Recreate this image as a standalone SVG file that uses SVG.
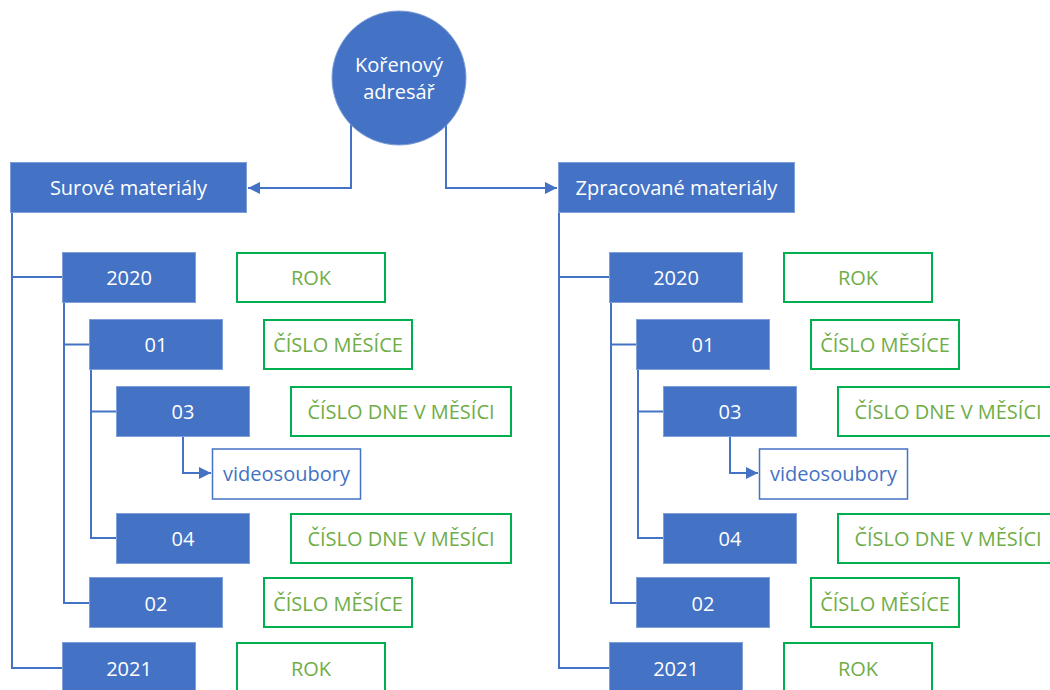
<svg xmlns="http://www.w3.org/2000/svg" width="1050" height="690" viewBox="0 0 1050 690">
<style>
.blue{fill:#4472C4;stroke:#7f9fd8;stroke-width:1}
.green{fill:#ffffff;stroke:#00B050;stroke-width:2}
.vid{fill:#ffffff;stroke:#4472C4;stroke-width:1.5}
.wt{font-family:"Open Sans","Liberation Sans",sans-serif;font-size:20px;fill:#ffffff;text-anchor:middle}
.gt{font-family:"Open Sans","Liberation Sans",sans-serif;font-size:20px;fill:#70AD47;text-anchor:middle}
.bt{font-family:"Open Sans","Liberation Sans",sans-serif;font-size:20px;fill:#4472C4;text-anchor:middle}
.ln{fill:none;stroke:#4472C4;stroke-width:2}
</style>
<defs>
<marker id="arr" viewBox="0 0 12 12" refX="12" refY="6" markerWidth="12" markerHeight="12" markerUnits="userSpaceOnUse" orient="auto">
<path d="M0,0 L12,6 L0,12 z" fill="#4472C4"/>
</marker>
</defs>
<g id="connectors">
<path class="ln" d="M351,120 V188 H248" marker-end="url(#arr)"/>
<path class="ln" d="M446,120 V188 H557" marker-end="url(#arr)"/>
<path class="ln" d="M12,213 V668 H62"/>
<path class="ln" d="M12,277 H62"/>
<path class="ln" d="M64,302 V603 H89"/>
<path class="ln" d="M64,344.5 H89"/>
<path class="ln" d="M91,370 V538 H116"/>
<path class="ln" d="M91,411.5 H116"/>
<path class="ln" d="M183,437 V473 H211" marker-end="url(#arr)"/>
<path class="ln" d="M559,213 V668 H609"/>
<path class="ln" d="M559,277 H609"/>
<path class="ln" d="M611,302 V603 H636"/>
<path class="ln" d="M611,344.5 H636"/>
<path class="ln" d="M638,370 V538 H663"/>
<path class="ln" d="M638,411.5 H663"/>
<path class="ln" d="M730,437 V473 H758" marker-end="url(#arr)"/>
</g>
<g id="root">
<circle cx="399" cy="78" r="67" class="blue"/>
<text class="wt" x="399" y="72">Kořenový</text>
<text class="wt" x="399" y="99">adresář</text>
</g>
<g id="surove">
<rect class="blue" x="10.5" y="162.5" width="236" height="50"/>
<text class="wt" x="128.5" y="194.5">Surové materiály</text>
</g>
<g id="zpracovane">
<rect class="blue" x="558.5" y="162.5" width="236" height="50"/>
<text class="wt" x="676.5" y="194.5">Zpracované materiály</text>
</g>
<g id="l2020"><rect class="blue" x="62.5" y="252.5" width="133" height="50"/><text class="wt" x="129" y="284.5">2020</text></g>
<g id="lrok1"><rect class="green" x="237" y="253" width="148" height="49"/><text class="gt" x="311" y="284.5">ROK</text></g>
<g id="l01"><rect class="blue" x="89.5" y="319.5" width="133" height="50"/><text class="wt" x="156" y="352">01</text></g>
<g id="lmes1"><rect class="green" x="264" y="320" width="148" height="49"/><text class="gt" x="338" y="352">ČÍSLO MĚSÍCE</text></g>
<g id="l03"><rect class="blue" x="116.5" y="386.5" width="133" height="50"/><text class="wt" x="183" y="419">03</text></g>
<g id="lden1"><rect class="green" x="291" y="387" width="220" height="49"/><text class="gt" x="401" y="419">ČÍSLO DNE V MĚSÍCI</text></g>
<g id="lvideo"><rect class="vid" x="212.5" y="449" width="148" height="50"/><text class="bt" x="286.5" y="480.5">videosoubory</text></g>
<g id="l04"><rect class="blue" x="116.5" y="513.5" width="133" height="50"/><text class="wt" x="183" y="546">04</text></g>
<g id="lden2"><rect class="green" x="291" y="514" width="220" height="49"/><text class="gt" x="401" y="546">ČÍSLO DNE V MĚSÍCI</text></g>
<g id="l02"><rect class="blue" x="89.5" y="577.5" width="133" height="50"/><text class="wt" x="156" y="610.5">02</text></g>
<g id="lmes2"><rect class="green" x="264" y="578" width="148" height="49"/><text class="gt" x="338" y="610.5">ČÍSLO MĚSÍCE</text></g>
<g id="l2021"><rect class="blue" x="62.5" y="642.5" width="133" height="50"/><text class="wt" x="129" y="675.5">2021</text></g>
<g id="lrok2"><rect class="green" x="237" y="643" width="148" height="49"/><text class="gt" x="311" y="675.5">ROK</text></g>
<g id="r2020"><rect class="blue" x="609.5" y="252.5" width="133" height="50"/><text class="wt" x="676" y="284.5">2020</text></g>
<g id="rrok1"><rect class="green" x="784" y="253" width="148" height="49"/><text class="gt" x="858" y="284.5">ROK</text></g>
<g id="r01"><rect class="blue" x="636.5" y="319.5" width="133" height="50"/><text class="wt" x="703" y="352">01</text></g>
<g id="rmes1"><rect class="green" x="811" y="320" width="148" height="49"/><text class="gt" x="885" y="352">ČÍSLO MĚSÍCE</text></g>
<g id="r03"><rect class="blue" x="663.5" y="386.5" width="133" height="50"/><text class="wt" x="730" y="419">03</text></g>
<g id="rden1"><rect class="green" x="838" y="387" width="220" height="49"/><text class="gt" x="948" y="419">ČÍSLO DNE V MĚSÍCI</text></g>
<g id="rvideo"><rect class="vid" x="759.5" y="449" width="148" height="50"/><text class="bt" x="833.5" y="480.5">videosoubory</text></g>
<g id="r04"><rect class="blue" x="663.5" y="513.5" width="133" height="50"/><text class="wt" x="730" y="546">04</text></g>
<g id="rden2"><rect class="green" x="838" y="514" width="220" height="49"/><text class="gt" x="948" y="546">ČÍSLO DNE V MĚSÍCI</text></g>
<g id="r02"><rect class="blue" x="636.5" y="577.5" width="133" height="50"/><text class="wt" x="703" y="610.5">02</text></g>
<g id="rmes2"><rect class="green" x="811" y="578" width="148" height="49"/><text class="gt" x="885" y="610.5">ČÍSLO MĚSÍCE</text></g>
<g id="r2021"><rect class="blue" x="609.5" y="642.5" width="133" height="50"/><text class="wt" x="676" y="675.5">2021</text></g>
<g id="rrok2"><rect class="green" x="784" y="643" width="148" height="49"/><text class="gt" x="858" y="675.5">ROK</text></g>
</svg>
